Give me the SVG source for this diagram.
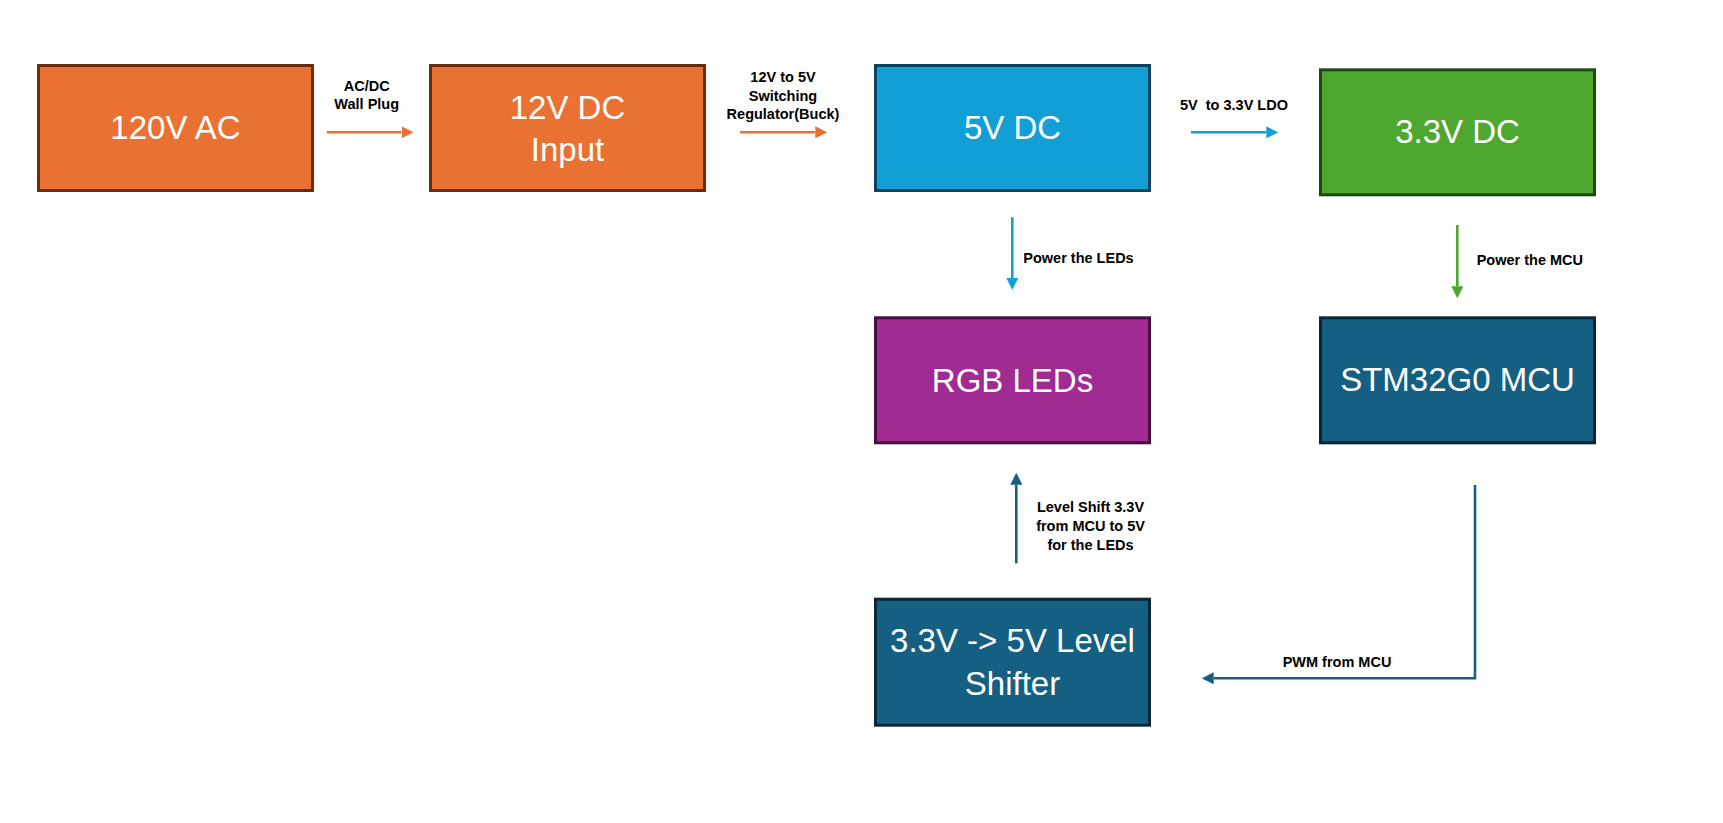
<svg xmlns="http://www.w3.org/2000/svg" width="1723" height="823" viewBox="0 0 1723 823">
<style>
.node rect{stroke-width:3}
.nt{font-family:"Liberation Sans",Arial,sans-serif;font-size:33px;fill:#fff;text-anchor:middle}
.lb{font-family:"Liberation Sans",Arial,sans-serif;font-size:14.5px;font-weight:bold;fill:#000}
.c{fill:none;stroke-width:2.6}
.or{fill:#e97132;stroke:#6a2c0e}
.bl{fill:#119fd6;stroke:#0c4460}
.gr{fill:#4ea72e;stroke:#1e4a12}
.pu{fill:#a02b93;stroke:#470f40}
.tl{fill:#156082;stroke:#0b2636}
</style>
<defs>
<marker id="mo" markerUnits="userSpaceOnUse" markerWidth="12" markerHeight="12" refX="0" refY="6" orient="auto"><path d="M0,0 L12,6 L0,12 z" fill="#e97132"/></marker>
<marker id="mb" markerUnits="userSpaceOnUse" markerWidth="12" markerHeight="12" refX="0" refY="6" orient="auto"><path d="M0,0 L12,6 L0,12 z" fill="#119fd6"/></marker>
<marker id="mg" markerUnits="userSpaceOnUse" markerWidth="12" markerHeight="12" refX="0" refY="6" orient="auto"><path d="M0,0 L12,6 L0,12 z" fill="#4ea72e"/></marker>
<marker id="mt" markerUnits="userSpaceOnUse" markerWidth="12" markerHeight="12" refX="0" refY="6" orient="auto"><path d="M0,0 L12,6 L0,12 z" fill="#156082"/></marker>
</defs>
<rect width="1723" height="823" fill="#fff"/>
<g id="n120vac" class="node"><rect class="or" x="38.5" y="65.5" width="274" height="125"/><text class="nt" x="175.5" y="139">120V AC</text></g>
<g id="n12vdc" class="node"><rect class="or" x="430.5" y="65.5" width="274" height="125"/><text class="nt" x="567.5" y="118.5">12V DC</text><text class="nt" x="567.5" y="161">Input</text></g>
<g id="n5vdc" class="node"><rect class="bl" x="875.5" y="65.5" width="274" height="125"/><text class="nt" x="1012.5" y="138.5">5V DC</text></g>
<g id="n33vdc" class="node"><rect class="gr" x="1320.5" y="69.8" width="274" height="125"/><text class="nt" x="1457.5" y="142.5">3.3V DC</text></g>
<g id="nrgb" class="node"><rect class="pu" x="875.5" y="317.8" width="274" height="125"/><text class="nt" x="1012.5" y="391.5">RGB LEDs</text></g>
<g id="nmcu" class="node"><rect class="tl" x="1320.5" y="317.8" width="274" height="125"/><text class="nt" x="1457.5" y="390.5">STM32G0 MCU</text></g>
<g id="nshift" class="node"><rect class="tl" x="875.5" y="599.2" width="274" height="126"/><text class="nt" x="1012.5" y="651.5">3.3V -&gt; 5V Level</text><text class="nt" x="1012.5" y="694.5">Shifter</text></g>
<g id="connectors">
<path class="c" stroke="#e97132" d="M326.7,132.3 H401.5" marker-end="url(#mo)"/>
<path class="c" stroke="#e97132" d="M740,132.3 H815.3" marker-end="url(#mo)"/>
<path class="c" stroke="#119fd6" d="M1191,132.3 H1266.3" marker-end="url(#mb)"/>
<path class="c" stroke="#119fd6" d="M1012.3,217.3 V278" marker-end="url(#mb)"/>
<path class="c" stroke="#4ea72e" d="M1457.3,225 V286.3" marker-end="url(#mg)"/>
<path class="c" stroke="#156082" d="M1016.3,563.3 V484.7" marker-end="url(#mt)"/>
<path class="c" stroke="#156082" d="M1475,485 V678.3 H1213.7" marker-end="url(#mt)"/>
<text class="lb" text-anchor="middle" x="366.7" y="91">AC/DC</text>
<text class="lb" text-anchor="middle" x="366.7" y="109">Wall Plug</text>
<text class="lb" text-anchor="middle" x="783" y="81.7">12V to 5V</text>
<text class="lb" text-anchor="middle" x="783" y="100.5">Switching</text>
<text class="lb" text-anchor="middle" x="783" y="118.5">Regulator(Buck)</text>
<text class="lb" text-anchor="middle" x="1234" y="110" xml:space="preserve">5V  to 3.3V LDO</text>
<text class="lb" x="1023.3" y="263.3">Power the LEDs</text>
<text class="lb" x="1476.7" y="265">Power the MCU</text>
<text class="lb" text-anchor="middle" x="1090.5" y="512.3">Level Shift 3.3V</text>
<text class="lb" text-anchor="middle" x="1090.5" y="531">from MCU to 5V</text>
<text class="lb" text-anchor="middle" x="1090.5" y="550">for the LEDs</text>
<text class="lb" text-anchor="middle" x="1337" y="666.7">PWM from MCU</text>
</g>
</svg>
